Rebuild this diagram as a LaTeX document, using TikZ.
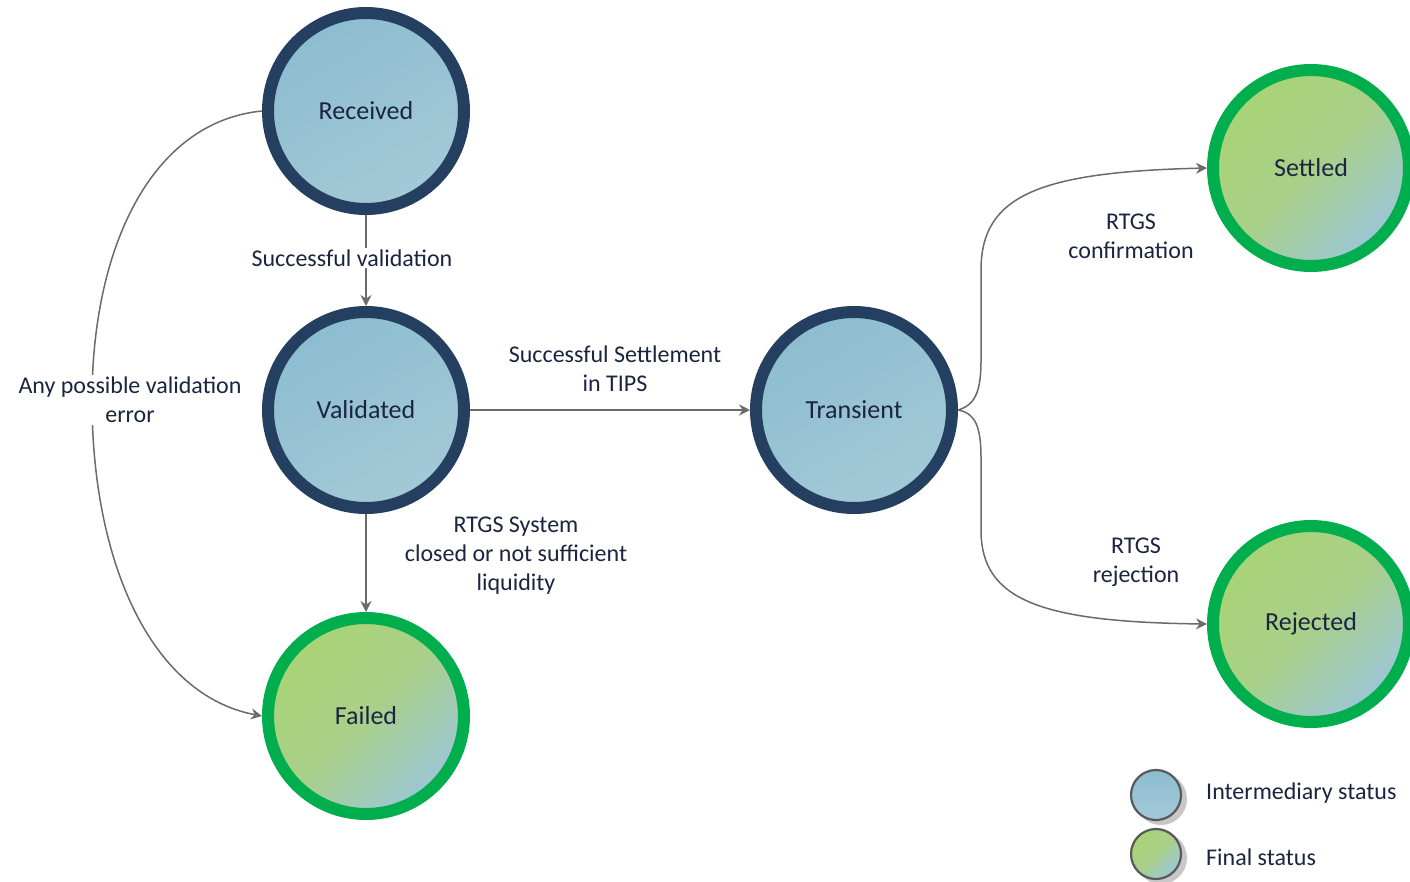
\documentclass[tikz,border=0pt]{standalone}
\usepackage{fontspec}
\setmainfont{Carlito}
\usetikzlibrary{arrows.meta}
\definecolor{navy}{HTML}{243F60}
\definecolor{greenring}{HTML}{00AE4D}
\definecolor{blueA}{HTML}{8CBDD0}
\definecolor{blueB}{HTML}{A4C9D7}
\definecolor{greenA}{HTML}{A8D375}
\definecolor{greenM}{HTML}{A9D089}
\definecolor{greenB}{HTML}{9CC6D8}
\definecolor{txt}{HTML}{1B2540}
\definecolor{arrgray}{HTML}{6B6B6B}
\begin{document}
\begin{tikzpicture}[x=1pt,y=-1pt,
  state/.style={circle, minimum size=196pt, inner sep=0pt, outer sep=6pt, line width=12pt,
    font=\fontsize{26}{30}\selectfont, text=txt},
  inter/.style={state, draw=navy, top color=blueA, bottom color=blueB, shading angle=30},
  final/.style={state, draw=greenring, top color=greenA, bottom color=greenB, middle color=greenM, shading angle=45},
  conn/.style={draw=arrgray, line width=1.5pt, -{Stealth[length=11pt,width=11pt]}},
  lab/.style={font=\fontsize{24}{29}\selectfont, text=txt, align=center, inner sep=2pt},
  legcirc/.style={circle, minimum size=50pt, inner sep=0pt, line width=2.2pt, draw=black!65},
  legshadow/.style={circle, minimum size=52pt, inner sep=0pt, fill=black!22}
]
\useasboundingbox (0,0) rectangle (1410,881);
\fill[white] (0,0) rectangle (1410,881);

% states
\node[inter] (rec) at (366,111) {Received};
\node[inter] (val) at (366,410) {Validated};
\node[final] (fail) at (366,716) {Failed};
\node[inter] (tra) at (854,410) {Transient};
\node[final] (set) at (1311,168) {Settled};
\node[final] (rej) at (1311,624) {Rejected};

% connectors
\draw[conn] (rec.south) -- (val.north);
\draw[conn] (val.east) -- (tra.west);
\draw[conn] (val.south) -- (fail.north);
\draw[conn] (rec.west) .. controls (150,122) and (92,250) .. (92,400)
  .. controls (92,560) and (150,695) .. (fail.west);
\draw[conn] (tra.east) .. controls (975,405) and (981,392) .. (981,360) -- (981,270)
  .. controls (981,195) and (1040,172) .. (set.west);
\draw[conn] (tra.east) .. controls (975,413) and (981,426) .. (981,458) -- (981,530)
  .. controls (981,600) and (1040,622) .. (rej.west);

% labels
\node[lab, fill=white] (l1) at (352,258) {Successful validation};
\node[lab] (l2) at (615,369) {Successful Settlement\\in TIPS};
\node[lab] (l3) at (516,556) {RTGS System\\closed or not sufficient\\liquidity};
\node[lab] (l4) at (1131,236) {RTGS\\confirmation};
\node[lab] (l5) at (1136,562) {RTGS\\rejection};
\node[lab, fill=white] (l6) at (130,400) {Any possible validation\\error};

% legend
\node[legshadow] (s1) at (1161,799) {};
\node[legshadow] (s2) at (1161,858) {};
\node[legcirc, top color=blueA, bottom color=blueB] (c1) at (1156,795) {};
\node[legcirc, top color=greenA, bottom color=greenB, middle color=greenM, shading angle=45] (c2) at (1156,854) {};
\node[lab, anchor=west] (t1) at (1204,793) {Intermediary status};
\node[lab, anchor=west] (t2) at (1204,857) {Final status};
\end{tikzpicture}
\end{document}
